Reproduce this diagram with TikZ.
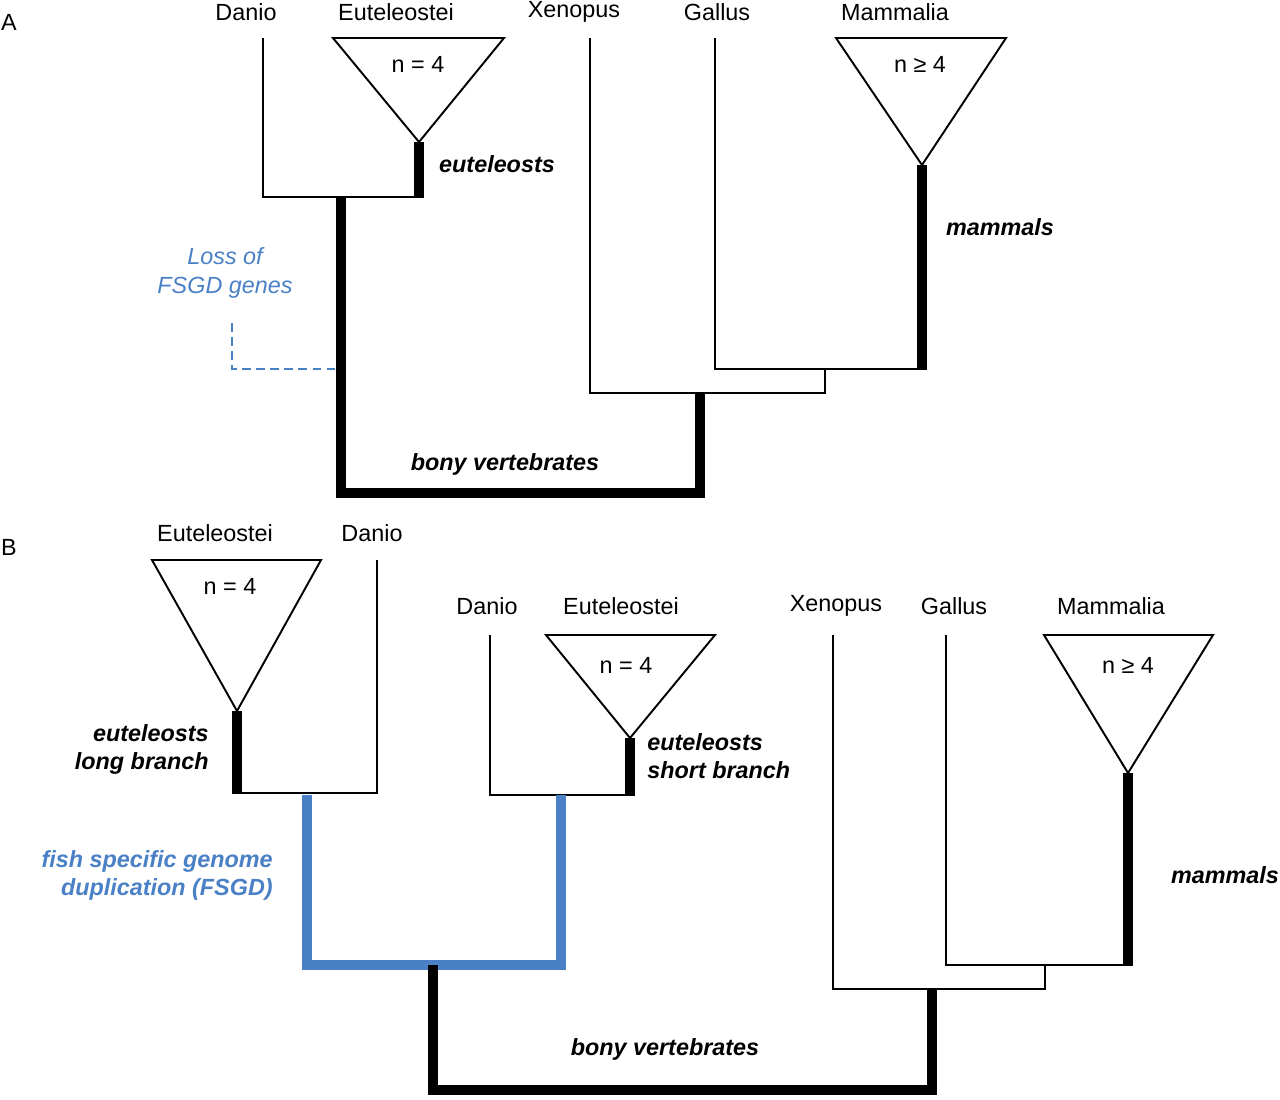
\documentclass[tikz,border=0pt]{standalone}
\usepackage{fontspec}
\setmainfont{Liberation Sans}
\usetikzlibrary{positioning}
\tikzset{
  lbl/.style={font=\fontsize{13.3}{15}\selectfont, inner sep=0pt},
  clade/.style={font=\fontsize{13.3}{16}\selectfont\bfseries\itshape, inner sep=0pt, align=left},
  thin/.style={line width=1.1pt},
  thick/.style={line width=5.4pt},
  fsgd/.style={line width=5.4pt, draw={rgb,255:red,74;green,128;blue,197}},
  tri/.style={line width=1.1pt, line join=miter},
}
\definecolor{fblue}{RGB}{74,128,197}
\begin{document}
\begin{tikzpicture}[x=0.02cm,y=-0.02cm]
  \useasboundingbox (0,0) rectangle (1280,1099);
  % panel A
  \node[lbl] (pA) at (9,22) {A};
  \node[lbl] (aDanio) at (246,12) {Danio};
  \node[lbl] (aEut) at (396,12) {Euteleostei};
  \node[lbl] (aXen) at (574,12) {Xenopus};
  \node[lbl] (aGal) at (717,12) {Gallus};
  \node[lbl] (aMam) at (895,12) {Mammalia};
  \draw[tri] (333,38) -- (504,38) -- (419,142) -- cycle;
  \node[lbl] at (418,64) {n = 4};
  \draw[tri] (836,38) -- (1006,38) -- (922,165) -- cycle;
  \node[lbl] at (920,64) {n ≥ 4};
  \draw[thin] (263,38) -- (263,197) -- (419,197);
  \draw[thick] (419,142) -- (419,198);
  \draw[thick] (341,197) -- (341,493) -- (700,493) -- (700,393);
  \draw[thin] (590,38) -- (590,393) -- (825,393) -- (825,369);
  \draw[thin] (715,38) -- (715,369) -- (922,369);
  \draw[thick] (922,165) -- (922,370);
  \node[clade] at (497,164) {euteleosts};
  \node[clade] at (1000,227) {mammals};
  \node[clade] at (505,464) {bony vertebrates};
  \node[lbl, text=fblue, align=center, font=\fontsize{13.3}{16}\selectfont\itshape] at (225,273) {Loss of\\FSGD genes};
  \draw[thin, dash pattern=on 5pt off 3pt, fblue] (232,323) -- (232,369) -- (337,369);
  % panel B
  \node[lbl] (pB) at (9,547) {B};
  \node[lbl] (bEut) at (215,533) {Euteleostei};
  \node[lbl] (bDanio) at (372,533) {Danio};
  \draw[tri] (152,560) -- (321,560) -- (237,711) -- cycle;
  \node[lbl] at (230,586) {n = 4};
  \draw[thick] (237,711) -- (237,794);
  \draw[thin] (237,793) -- (377,793) -- (377,560);
  \node[clade, align=right, anchor=east] at (209,749) {euteleosts\\long branch};
  \node[lbl] (bDanio2) at (487,606) {Danio};
  \node[lbl] (bEut2) at (621,606) {Euteleostei};
  \draw[tri] (546,635) -- (715,635) -- (630,738) -- cycle;
  \node[lbl] at (626,665) {n = 4};
  \draw[thin] (490,635) -- (490,795) -- (630,795);
  \draw[thick] (630,738) -- (630,796);
  \node[clade, anchor=west] at (647,756) {euteleosts\\short branch};
  \draw[fsgd] (307,795) -- (307,965) -- (561,965) -- (561,795);
  \node[clade, text=fblue, align=right, anchor=east] at (273,875) {fish specific genome\\duplication (FSGD)};
  \draw[thick] (433,965) -- (433,1090) -- (932,1090) -- (932,989);
  \node[lbl] (bXen) at (836,606) {Xenopus};
  \node[lbl] (bGal) at (954,606) {Gallus};
  \node[lbl] (bMam) at (1111,606) {Mammalia};
  \draw[thin] (833,635) -- (833,989) -- (1045,989) -- (1045,965);
  \draw[thin] (946,635) -- (946,965) -- (1128,965);
  \draw[tri] (1044,635) -- (1213,635) -- (1128,773) -- cycle;
  \node[lbl] at (1128,665) {n ≥ 4};
  \draw[thick] (1128,773) -- (1128,966);
  \node[clade] at (1225,875) {mammals};
  \node[clade] at (665,1049) {bony vertebrates};
\end{tikzpicture}
\end{document}
